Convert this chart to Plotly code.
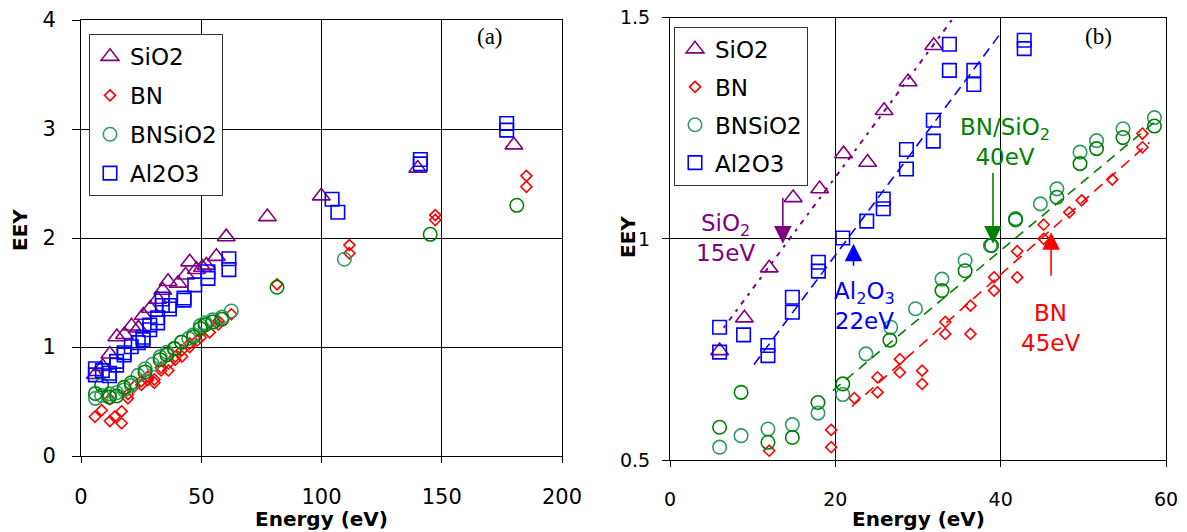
import plotly.graph_objects as go

# ---------------- data (Energy in eV, EEY) ----------------
sio2_E = [6.0, 9.0, 12.0, 14.9, 18.1, 21.0, 23.9, 25.9, 28.8, 31.9, 34.0, 36.2, 40.4, 43.5,
          45.2, 48.0, 50.5, 52.1, 56.3, 60.4, 77.5, 99.9, 140.0, 180.0]
sio2_Y = [0.747, 0.821, 0.934, 1.093, 1.113, 1.192, 1.173, 1.290, 1.355, 1.437, 1.52, 1.60, 1.585, 1.66,
          1.78, 1.71, 1.73, 1.75, 1.83, 2.01, 2.195, 2.385, 2.64, 2.853]

bn_E = [5.8, 8.6, 12.0, 14.0, 16.9, 16.9, 12.0, 19.5, 19.5, 22.3, 25.1, 25.1, 27.8, 27.8, 30.5, 30.5,
        33.3, 33.3, 36.35, 36.35, 39.2, 39.2, 42.0, 42.0, 45.2, 45.2, 48.3, 49.8, 53.5, 57.15, 57.15,
        62.5, 81.5, 111.6, 111.6, 147.3, 147.3, 185.2, 185.2]
bn_Y = [0.36, 0.42, 0.32, 0.36, 0.41, 0.30, 0.521, 0.568, 0.529, 0.640, 0.687, 0.653, 0.728, 0.698, 0.702, 0.672,
        0.812, 0.785, 0.849, 0.785, 0.913, 0.883, 0.972, 0.913, 1.032, 1.000, 1.060, 1.087, 1.134, 1.238, 1.207,
        1.30, 1.575, 1.935, 1.86, 2.21, 2.165, 2.57, 2.47]

bnsio2_E = [6.0, 8.6, 11.85, 14.8, 17.9, 20.9, 23.7, 26.7, 29.7, 32.9, 35.7, 38.75, 41.8, 44.8, 46.8,
            49.6, 51.6, 54.8, 58.6, 62.5, 109.5]
bnsio2_Y = [0.529, 0.555, 0.570, 0.580, 0.606, 0.648, 0.740, 0.800, 0.842, 0.909, 0.951, 0.985, 1.046, 1.079, 1.113,
            1.196, 1.222, 1.249, 1.274, 1.33, 1.805]

bnsio2b_E = [6.0, 8.6, 11.85, 14.8, 17.9, 20.9, 26.6, 32.9, 35.7, 38.9, 41.8, 46.8, 49.6, 51.6, 54.8, 58.6,
             81.5, 145.2, 181.2]
bnsio2b_Y = [0.574, 0.653, 0.540, 0.551, 0.630, 0.672, 0.771, 0.883, 0.928, 0.985, 1.043, 1.094, 1.170, 1.204,
             1.229, 1.255, 1.548, 2.034, 2.30]

al2o3_E = [6.0, 6.0, 8.9, 11.85, 11.85, 14.8, 14.8, 17.95, 17.95, 20.9, 23.8, 25.8, 25.8, 28.6, 28.6,
           31.85, 31.85, 33.8, 33.8, 36.75, 36.75, 42.85, 42.85, 47.3, 52.8, 52.8, 61.5, 61.5,
           104.4, 106.8, 141.1, 141.1, 177.0, 177.0]
al2o3_Y = [0.80, 0.744, 0.783, 0.759, 0.736, 0.868, 0.834, 0.947, 0.927, 1.002, 1.04, 1.09, 1.068, 1.202, 1.158,
           1.268, 1.221, 1.381, 1.44, 1.381, 1.349, 1.449, 1.43, 1.57, 1.69, 1.63, 1.81, 1.71,
           2.355, 2.236, 2.72, 2.68, 3.05, 2.99]

# linear trend lines shown in panel (b)
sio2_fit_E = [6.5, 34.3]
sio2_fit_Y = [0.799, 1.50]
al2o3_fit_E = [10.16, 40.2]
al2o3_fit_Y = [0.716, 1.47]
bnsio2_fit_E = [19.7, 59.0]
bnsio2_fit_Y = [0.657, 1.27]
bn_fit_E = [22.0, 58.0]
bn_fit_Y = [0.621, 1.218]

# threshold arrows (x, tail y, head y) for panel (b)
arrows = [
    (13.65, 1.096, 0.989, "#800080"),
    (22.2, 0.936, 0.989, "#0000FF"),
    (39.07, 1.152, 0.989, "#008000"),
    (46.1, 0.913, 1.015, "#FF0000"),
]

PURPLE = "#800080"
RED = "#FF0000"
LGREEN = "#339966"
DGREEN = "#008000"
BLUE = "#0000FF"
FONT = "DejaVu Sans"

series = [
    ("SiO2", sio2_E, sio2_Y, "triangle-up-open", 15.5, PURPLE, True),
    ("BN", bn_E, bn_Y, "diamond-open", 8.5, RED, True),
    ("BNSiO2", bnsio2_E, bnsio2_Y, "circle-open", 13.5, LGREEN, True),
    ("BNSiO2 b", bnsio2b_E, bnsio2b_Y, "circle-open", 13.5, DGREEN, False),
    ("Al2O3", al2o3_E, al2o3_Y, "square-open", 13.5, BLUE, True),
]

fig = go.Figure()

for panel, (xa, ya, lg) in enumerate([("x", "y", "legend"), ("x2", "y2", "legend2")]):
    for name, xs, ys, sym, size, col, inleg in series:
        fig.add_trace(go.Scatter(
            x=xs, y=ys, mode="markers", name=name,
            xaxis=xa, yaxis=ya, legend=lg,
            legendgroup=f"{name}_{panel}", showlegend=inleg,
            marker=dict(symbol=sym, size=size, color=col, line=dict(color=col, width=1.6)),
        ))

fits = [
    (sio2_fit_E, sio2_fit_Y, PURPLE, "3px,6px,5px,6px", 2.0),
    (al2o3_fit_E, al2o3_fit_Y, BLUE, "10px,6px", 1.6),
    (bnsio2_fit_E, bnsio2_fit_Y, DGREEN, "10px,7px", 1.6),
    (bn_fit_E, bn_fit_Y, RED, "11px,7px", 1.6),
]
for fx, fy, col, dash, w in fits:
    fig.add_trace(go.Scatter(x=fx, y=fy, mode="lines", xaxis="x2", yaxis="y2",
                             showlegend=False, line=dict(color=col, dash=dash, width=w)))

axis_common = dict(showgrid=True, gridcolor="black", gridwidth=1, showline=True,
                   linecolor="black", linewidth=1, mirror=True, ticks="outside",
                   tickcolor="black", zeroline=False, fixedrange=True, automargin=False)

fig.update_layout(
    width=1187, height=532,
    margin=dict(l=0, r=0, t=0, b=0, autoexpand=False),
    paper_bgcolor="white", plot_bgcolor="white",
    font=dict(family=FONT, color="black"),
    xaxis=dict(domain=[81/1187, 562/1187], range=[0, 200], dtick=50, anchor="y",
               ticklen=6, tickfont=dict(size=21), ticklabelstandoff=16, **axis_common),
    yaxis=dict(domain=[(532-456)/532, (532-20)/532], range=[0, 4], dtick=1, anchor="x",
               ticklen=8, tickfont=dict(size=21), ticklabelstandoff=12, **axis_common),
    xaxis2=dict(domain=[670/1187, 1166/1187], range=[0, 60], dtick=20, anchor="y2",
                ticklen=6, tickfont=dict(size=19), ticklabelstandoff=16, **axis_common),
    yaxis2=dict(domain=[(532-460)/532, (532-17.7)/532], range=[0.5, 1.5], dtick=0.5, anchor="x2",
                ticklen=7, tickfont=dict(size=19), ticklabelstandoff=8, **axis_common),
    legend=dict(x=89/1187, y=(532-34)/532, xanchor="left", yanchor="top",
                bgcolor="white", bordercolor="#333333", borderwidth=1,
                font=dict(size=23, family=FONT), tracegroupgap=6, traceorder="grouped"),
    legend2=dict(x=674/1187, y=(532-26.5)/532, xanchor="left", yanchor="top",
                 bgcolor="white", bordercolor="#333333", borderwidth=1,
                 font=dict(size=23, family=FONT), tracegroupgap=5, traceorder="grouped"),
)

ann = []
# axis titles
for xc in (321/1187, 918/1187):
    ann.append(dict(text="<b>Energy (eV)</b>", x=xc, y=(532-519)/532, xref="paper", yref="paper",
                    showarrow=False, font=dict(size=20, family=FONT), xanchor="center", yanchor="middle"))
for xc, yc in ((20/1187, (532-230)/532), (628/1187, (532-237)/532)):
    ann.append(dict(text="<b>EEY</b>", x=xc, y=yc, xref="paper", yref="paper", textangle=-90,
                    showarrow=False, font=dict(size=20, family=FONT), xanchor="center", yanchor="middle"))
# panel tags
ann.append(dict(text="(a)", x=490/1187, y=(532-36.7)/532, xref="paper", yref="paper", showarrow=False,
                font=dict(size=23, family="Liberation Serif"), xanchor="center", yanchor="middle"))
ann.append(dict(text="(b)", x=1098/1187, y=(532-36.7)/532, xref="paper", yref="paper", showarrow=False,
                font=dict(size=23, family="Liberation Serif"), xanchor="center", yanchor="middle"))

# threshold labels in panel (b)
labels = [
    ("SiO<sub>2</sub><br>15eV", 6.75, 1.003, PURPLE),
    ("Al<sub>2</sub>O<sub>3</sub><br>22eV", 23.55, 0.848, BLUE),
    ("BN/SiO<sub>2</sub><br>40eV", 40.48, 1.218, DGREEN),
    ("BN<br>45eV", 46.08, 0.799, RED),
]
for t, x, y, c in labels:
    ann.append(dict(text=t, x=x, y=y, xref="x2", yref="y2", showarrow=False,
                    font=dict(size=23, family=FONT, color=c), xanchor="center", yanchor="middle"))

for x, ytail, yhead, c in arrows:
    ann.append(dict(text="", x=x, y=yhead, ax=x, ay=ytail, xref="x2", yref="y2",
                    axref="x2", ayref="y2", showarrow=True, arrowhead=2, arrowsize=2.2,
                    arrowwidth=1.6, arrowcolor=c, standoff=0, startstandoff=0))

fig.update_layout(annotations=ann)

fig.write_html("out.html")
